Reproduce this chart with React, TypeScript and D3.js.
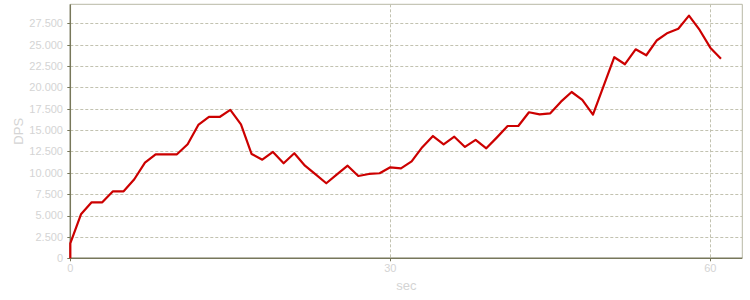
import React from "react";
import * as d3 from "d3";

const seconds: number[] = [0, 0, 1, 2, 3, 4, 5, 6, 7, 8, 9, 10, 11, 12, 13, 14, 15, 16, 17, 18, 19, 20, 21, 22, 23, 24, 25, 26, 27, 28, 29, 30, 31, 32, 33, 34, 35, 36, 37, 38, 39, 40, 41, 42, 43, 44, 45, 46, 47, 48, 49, 50, 51, 52, 53, 54, 55, 56, 57, 58, 59, 60, 61];
const dps: number[] = [0, 1750, 5150, 6550, 6550, 7840, 7840, 9250, 11190, 12170, 12170, 12170, 13350, 15600, 16540, 16540, 17360, 15680, 12200, 11540, 12450, 11120, 12290, 10840, 9810, 8780, 9810, 10840, 9630, 9870, 9950, 10650, 10530, 11350, 13000, 14310, 13340, 14230, 13030, 13850, 12870, 14150, 15480, 15480, 17090, 16850, 16970, 18330, 19460, 18530, 16810, 20170, 23530, 22710, 24460, 23760, 25520, 26370, 26870, 28400, 26720, 24650, 23360];
const yTicks: number[] = [0, 2500, 5000, 7500, 10000, 12500, 15000, 17500, 20000, 22500, 25000, 27500];
const xTicks: number[] = [0, 30, 60];

const W = 750, H = 300;
const left = 70.3, right = 742.3, top = 4.3, bottom = 258.3;

export default function App() {
  const x = d3.scaleLinear().domain([0, 63]).range([left, right]);
  const y = d3.scaleLinear().domain([0, 27500]).range([bottom, 23.3]);
  const fmt = (v: number) => d3.format(",")(v).replace(/,/g, ".");
  const pts: [number, number][] = seconds.map((s, i) => [s, dps[i]]);
  const line = d3.line<[number, number]>().x((d) => x(d[0])).y((d) => y(d[1]));
  const gridColor = "#c2c2b0";
  const textColor = "#d4d4d4";
  const font = "'Liberation Sans', Arial, sans-serif";
  return (
    <svg width={W} height={H} style={{ position: "absolute", left: 0, top: 0, background: "#fff" }}>
      {/* frame top/right */}
      <line x1={left} x2={right} y1={top} y2={top} stroke="#b8b8a6" strokeWidth={1} />
      <line x1={right} x2={right} y1={top} y2={bottom} stroke="#b8b8a6" strokeWidth={1} />
      {/* horizontal grid */}
      {yTicks.filter((t) => t > 0).map((t) => (
        <line key={"hg" + t} x1={left} x2={right} y1={Math.round(y(t)) + 0.5} y2={Math.round(y(t)) + 0.5} stroke={gridColor} strokeDasharray="3,2" strokeWidth={1} />
      ))}
      {/* vertical grid */}
      {xTicks.filter((t) => t > 0).map((t) => (
        <line key={"vg" + t} x1={Math.round(x(t)) + 0.5} x2={Math.round(x(t)) + 0.5} y1={top} y2={bottom} stroke={gridColor} strokeDasharray="3,2" strokeWidth={1} />
      ))}
      {/* y ticks + labels */}
      {yTicks.map((t) => (
        <g key={"yt" + t}>
          <line x1={left - 3} x2={left} y1={Math.round(y(t)) + 0.5} y2={Math.round(y(t)) + 0.5} stroke="#77775a" />
          <text x={63} y={y(t)} dy="0.35em" textAnchor="end" fontSize={11} fontFamily={font} fill={textColor}>{fmt(t)}</text>
        </g>
      ))}
      {/* x ticks + labels */}
      {xTicks.map((t) => (
        <g key={"xt" + t}>
          <line x1={Math.round(x(t)) + 0.5} x2={Math.round(x(t)) + 0.5} y1={bottom} y2={bottom + 3} stroke="#77775a" />
          <text x={x(t)} y={bottom + 14} textAnchor="middle" fontSize={11} fontFamily={font} fill={textColor}>{t}</text>
        </g>
      ))}
      {/* axes */}
      <line x1={left} x2={left} y1={top} y2={bottom} stroke="#77775a" strokeWidth={1.5} />
      <line x1={left} x2={right} y1={bottom} y2={bottom} stroke="#77775a" strokeWidth={1.5} />
      {/* axis titles */}
      <text x={(left + right) / 2} y={289.5} textAnchor="middle" fontSize={13} fontFamily={font} fill={textColor}>sec</text>
      <text transform={`translate(23, ${(top + bottom) / 2}) rotate(-90)`} textAnchor="middle" fontSize={13} fontFamily={font} fill={textColor}>DPS</text>
      {/* data line */}
      <path d={line(pts) || ""} fill="none" stroke="#cc0000" strokeWidth={2.2} strokeLinejoin="round" />
    </svg>
  );
}
